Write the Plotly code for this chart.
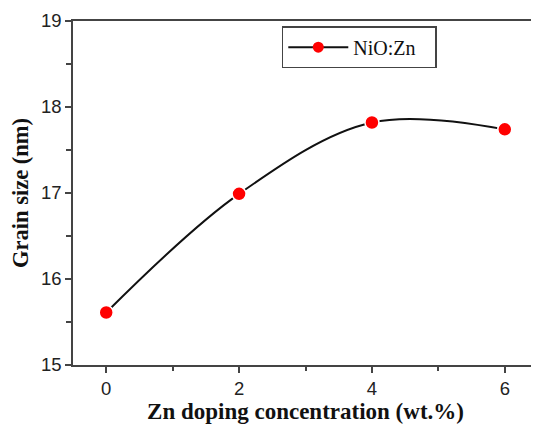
import plotly.graph_objects as go

zn_conc = [0, 2, 4, 6]
grain_size = [15.61, 16.99, 17.82, 17.74]
series_name = "NiO:Zn"
x_ticks = [0, 2, 4, 6]
x_minor = [1, 3, 5]
y_ticks = [15, 16, 17, 18, 19]
y_minor = [15.5, 16.5, 17.5, 18.5]

fig = go.Figure()
fig.add_trace(go.Scatter(
    x=zn_conc, y=grain_size, name=series_name, showlegend=False,
    mode="lines+markers",
    line=dict(color="#111111", width=2, shape="spline", smoothing=1),
    marker=dict(color="#ff0000", size=14, line=dict(color="white", width=1.5)),
))
# legend entry (smaller symbol, as in the original legend)
fig.add_trace(go.Scatter(
    x=[None], y=[None], name=series_name, showlegend=True,
    mode="lines+markers",
    line=dict(color="#111111", width=2),
    marker=dict(color="#ff0000", size=11),
))

axis_common = dict(
    showline=True, linecolor="#444444", linewidth=1.5, mirror=True,
    ticks="outside", tickcolor="#444444", tickwidth=1.5, ticklen=6,
    showgrid=False, zeroline=False, automargin=False,
    tickfont=dict(family="Liberation Sans, Arial", size=18.5, color="#222222"),
)

fig.update_xaxes(
    range=[-0.5, 6.5], tickvals=x_ticks,
    minor=dict(tickvals=x_minor, ticks="outside", ticklen=4, tickcolor="#444444", tickwidth=1.5),
    title=dict(text="<b>Zn doping concentration (wt.%)</b>", standoff=4,
               font=dict(family="Liberation Serif, Times New Roman", size=23, color="#111111")),
    **axis_common,
)
fig.update_yaxes(
    range=[15, 19], tickvals=y_ticks,
    minor=dict(tickvals=y_minor, ticks="outside", ticklen=5, tickcolor="#444444", tickwidth=1.5),
    title=dict(text="<b>Grain size (nm)</b>", standoff=6,
               font=dict(family="Liberation Serif, Times New Roman", size=22.5, color="#111111")),
    **axis_common,
)

fig.update_layout(
    width=531, height=416,
    margin=dict(l=65, r=1, t=13, b=59),
    paper_bgcolor="white", plot_bgcolor="white",
    showlegend=True,
    legend=dict(x=0.449, y=0.985, xanchor="left", yanchor="top",
                orientation="h", entrywidth=77, entrywidthmode="pixels",
                itemwidth=60, itemsizing="trace",
                bordercolor="#444444", borderwidth=1.5, bgcolor="white",
                font=dict(family="Liberation Serif, Times New Roman", size=20, color="#111111")),
)

fig.write_html("out.html")
